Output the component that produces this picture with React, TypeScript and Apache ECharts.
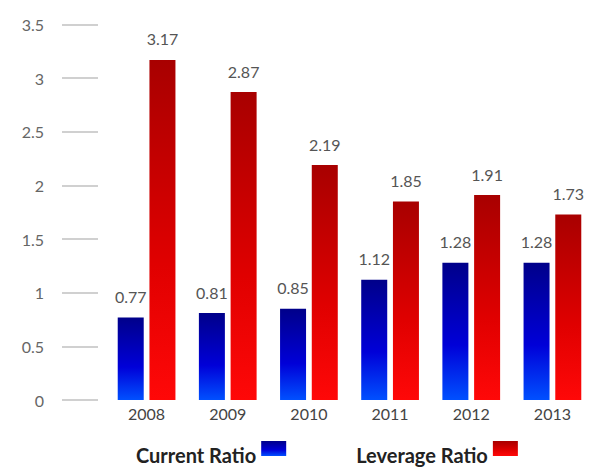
import React, { useEffect, useRef } from "react";
import * as echarts from "echarts";

const categories = ["2008", "2009", "2010", "2011", "2012", "2013"];
const currentRatio = [0.77, 0.81, 0.85, 1.12, 1.28, 1.28];
const leverageRatio = [3.17, 2.87, 2.19, 1.85, 1.91, 1.73];
const seriesNames = ["Current Ratio", "Leverage Ratio"];

export default function App() {
  const ref = useRef<HTMLDivElement>(null);
  useEffect(() => {
    const chart = echarts.init(ref.current!, null, { renderer: "svg" });
    const blue = new echarts.graphic.LinearGradient(0, 0, 0, 1, [
      { offset: 0, color: "#00008a" },
      { offset: 0.6, color: "#0000d8" },
      { offset: 1, color: "#0050ff" },
    ]);
    const red = new echarts.graphic.LinearGradient(0, 0, 0, 1, [
      { offset: 0, color: "#a80000" },
      { offset: 0.6, color: "#e00000" },
      { offset: 1, color: "#ff0808" },
    ]);
    const label = {
      show: true,
      position: "top" as const,
      distance: 13,
      color: "#555",
      fontSize: 16,
      fontFamily: "Lato",
    };
    chart.setOption({
      animation: false,
      textStyle: { fontFamily: "Lato" },
      grid: { left: 106, right: 5, top: 24.5, bottom: 70 },
      legend: {
        left: 131,
        top: 436,
        align: "right",
        itemWidth: 25,
        itemHeight: 15,
        itemGap: 70,
        icon: "rect",
        formatter: "{n|{name}}",
        textStyle: {
          fontSize: 20,
          fontWeight: "bold",
          color: "#222",
          fontFamily: "Lato",
          rich: {
            n: {
              fontSize: 20,
              fontWeight: "bold",
              color: "#222",
              fontFamily: "Lato",
              padding: [13, 0, 0, 0],
            },
          },
        },
        data: seriesNames,
      },
      xAxis: {
        type: "category",
        data: categories,
        axisLine: { show: false },
        axisTick: { show: false },
        axisLabel: { color: "#444", fontSize: 16, margin: 5, fontFamily: "Lato" },
      },
      yAxis: {
        type: "value",
        min: 0,
        max: 3.5,
        interval: 0.5,
        offset: 8,
        axisLine: { show: false },
        axisTick: { show: true, length: 36, lineStyle: { color: "#d0d0d0", width: 2 } },
        splitLine: { show: false },
        axisLabel: { color: "#666", fontSize: 16, margin: 54, fontFamily: "Lato" },
      },
      series: [
        {
          name: seriesNames[0],
          type: "bar",
          data: currentRatio,
          barWidth: 26,
          barGap: "22%",
          itemStyle: { color: blue },
          label,
        },
        {
          name: seriesNames[1],
          type: "bar",
          data: leverageRatio,
          barWidth: 26,
          barGap: "22%",
          itemStyle: { color: red },
          label,
        },
      ],
    });
    return () => chart.dispose();
  }, []);
  return <div ref={ref} style={{ width: 598, height: 470, position: "absolute", left: 0, top: 0 }} />;
}
